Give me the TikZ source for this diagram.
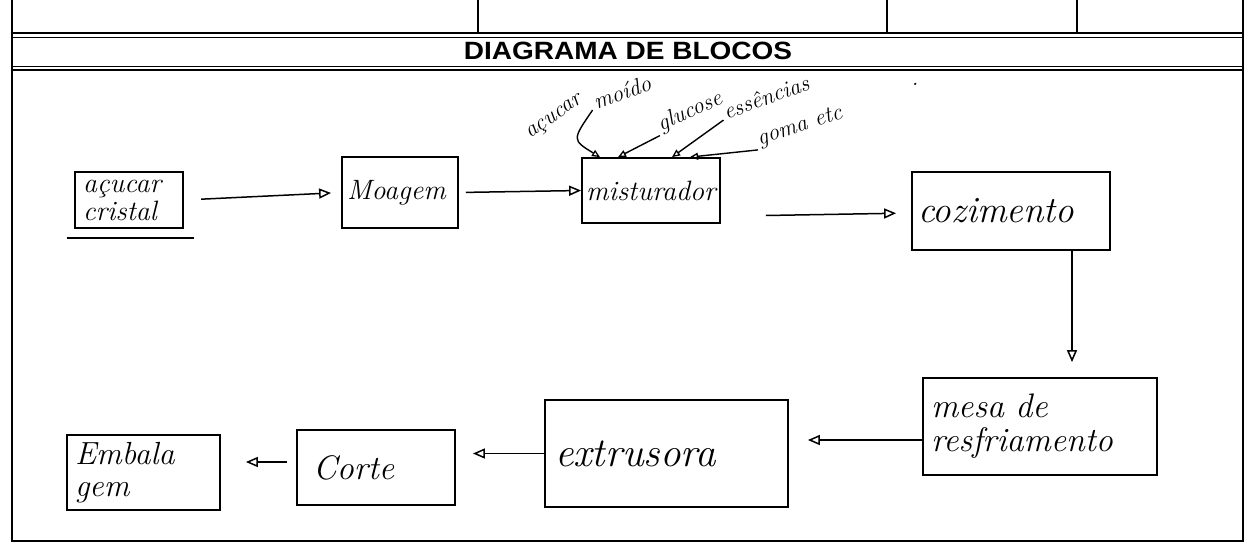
\documentclass[tikz,border=0pt]{standalone}
\usepackage{fontspec}
\newfontfamily\titlefont{Liberation Sans}
\usetikzlibrary{arrows.meta}
\newcommand\hsz[1]{\fontsize{#1}{#1}\selectfont\itshape}
\begin{document}
\begin{tikzpicture}[x=1pt,y=-1pt,
  frame/.style={line width=1.8pt},
  thinframe/.style={line width=0.9pt},
  blk/.style={draw, line width=1.8pt, align=left, inner xsep=6pt, inner ysep=3pt},
  arr/.style={line width=1.5pt, -{Triangle[open,length=12pt,width=10pt,line width=1.5pt]}},
  iarr/.style={line width=1.4pt, -{Triangle[open,length=8pt,width=7pt,line width=1.3pt]}},
  lab/.style={font=\hsz{23}, inner sep=0pt}]
\useasboundingbox (0,0) rectangle (1246,548);
% form frame
\draw[frame] (12,0) -- (12,541) -- (1243,541) -- (1243,0);
\draw[frame] (12,33) -- (1243,33);
\draw[thinframe] (12,37) -- (1243,37);
\draw[thinframe] (12,66) -- (1243,66);
\draw[frame] (12,70) -- (1243,70);
\draw[frame] (478,0) -- (478,33);
\draw[frame] (887,0) -- (887,33);
\draw[frame] (1077,0) -- (1077,33);
\node[font=\titlefont\bfseries\fontsize{25}{25}\selectfont, inner sep=0pt] (title) at (628,51) {\scalebox{1.12}[1]{DIAGRAMA DE BLOCOS}};
% blocks
\node[blk, font=\hsz{28}, line width=2.4pt, inner xsep=8pt, text width=92pt, minimum height=56] (acucar) at (129,200) {açucar\\cristal};
\node[blk, font=\hsz{28}, inner xsep=5pt, text width=106pt, minimum height=71] (moagem) at (400,192.5) {Moagem};
\node[blk, font=\hsz{28}, inner xsep=2pt, minimum width=138, minimum height=65] (mist) at (651,190.5) {misturador};
\node[blk, font=\hsz{37}, text width=186pt, minimum height=78] (coz) at (1011,211) {cozimento};
\node[blk, font=\hsz{34}, inner xsep=8pt, text width=218pt, minimum height=97] (mesa) at (1040,426.5) {mesa de\\resfriamento};
\node[blk, font=\hsz{41}, inner xsep=10pt, text width=223pt, minimum height=107] (extr) at (666.5,453.5) {extrusora};
\node[blk, font=\hsz{34}, inner xsep=16pt, text width=126pt, minimum height=75] (corte) at (376,467.5) {Corte};
\node[blk, font=\hsz{32}, inner xsep=8pt, text width=137pt, minimum height=75] (emb) at (143.5,472.5) {Embala\\gem};
\draw[line width=1.8pt] ([shift={(-7,9)}]acucar.south west) -- ([shift={(10,9)}]acucar.south east);
% flow connectors
\draw[arr, shorten <=17pt, shorten >=10pt] (acucar.east) -- (moagem.west);
\draw[arr, shorten <=7pt] (moagem.east) -- (mist.west);
\draw[arr, shorten >=15pt] ([xshift=45pt,yshift=-25pt]mist.east) -- ([yshift=-2pt]coz.west);
\draw[arr, shorten >=15pt] ([xshift=61pt]coz.south) -- ([xshift=61pt]coz.south |- mesa.north);
\draw[arr, shorten >=19pt] ([yshift=-13.5pt]mesa.west) -- ([yshift=-13.5pt]mesa.west -| extr.east);
\draw[arr, shorten >=17pt] (extr.west) -- (extr.west -| corte.east);
\draw[arr, shorten <=9pt, shorten >=25pt] ([yshift=5.5pt]corte.west) -- ([yshift=10.5pt]emb.east);
% inputs to misturador
\node[lab, rotate=35] (acu) at (555,118) {açucar};
\node[lab, rotate=20] (moi) at (622,92) {moído};
\node[lab, rotate=24] (glu) at (690,112) {glucose};
\node[lab, rotate=20] (ess) at (766,97) {essências};
\node[lab, rotate=18] (gom) at (800,127) {goma etc};
\node[lab] (dot) at (915,84) {.};
\draw[iarr] ([xshift=-4pt]moi.south west) .. controls (572,140) .. ([xshift=-51pt]mist.north);
\draw[iarr] ([xshift=-3pt]glu.south west) -- ([xshift=-33pt]mist.north);
\draw[iarr] ([xshift=-3pt]ess.south west) -- ([xshift=21pt]mist.north);
\draw[iarr] ([xshift=-3pt]gom.south west) -- ([xshift=39pt]mist.north);
\end{tikzpicture}
\end{document}
